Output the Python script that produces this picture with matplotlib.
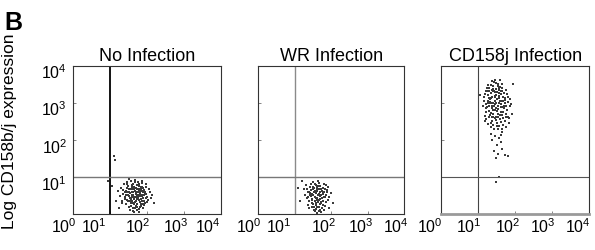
import numpy as np
import matplotlib
matplotlib.use("Agg")
import matplotlib.pyplot as plt
from matplotlib.transforms import ScaledTranslation

plt.rcParams['font.family'] = ['Liberation Sans', 'DejaVu Sans']
plt.rcParams['mathtext.fontset'] = 'custom'
plt.rcParams['mathtext.rm'] = 'Liberation Sans'
plt.rcParams['mathtext.default'] = 'regular'

# panel titles
titles = ["No Infection", "WR Infection", "CD158j Infection"]
y_label = "Log CD158b/j expression"
decades = [0, 1, 2, 3, 4]
tick_labels = ["$10^{%d}$" % d for d in decades]
gate_x = [10, 10, 10]
gate_y = [10, 10, 10]

# event positions, as log10 values
no_inf_lx = [1.45, 1.52, 1.60, 1.66, 1.72, 1.80, 1.88, 1.58, 1.70, 1.63,
             1.75, 1.92, 1.50, 1.41, 1.84, 1.96, 2.02, 1.55, 1.68, 1.77,
             1.62, 1.73, 1.82, 1.48, 1.36, 1.31, 1.57, 1.69, 1.86, 1.99,
             2.08, 2.12, 1.94, 1.79, 1.66, 1.53, 1.44, 1.39, 1.60, 1.71,
             1.83, 1.90, 1.64, 1.76, 1.85, 1.57, 1.67, 1.80, 1.93, 1.49,
             1.54, 1.61, 1.74, 1.87, 1.97, 2.05, 1.28, 1.33, 1.47, 1.78,
             1.70, 1.59, 1.81, 1.65, 1.89, 1.52, 1.42, 1.98, 2.15, 1.22,
             1.63, 1.72, 1.84, 1.56, 1.69, 1.91, 1.46, 1.76, 1.61, 1.86,
             1.15, 1.12, 1.05, 1.18, 2.20, 0.95, 1.25,
             1.51, 1.58, 1.65, 1.73, 1.79, 1.87, 1.95, 2.00, 1.43, 1.36,
             1.62, 1.69, 1.76, 1.83, 1.90, 1.55, 1.48, 1.67, 1.74, 1.81,
             1.59, 1.64, 1.71, 1.78, 1.85, 1.93, 2.03, 1.40, 1.34, 1.53,
             1.60, 1.68, 1.75, 1.82, 1.88, 1.96, 1.46, 1.57, 1.63, 1.70,
             1.77, 1.84, 1.91, 1.99, 1.50, 1.66, 1.73, 1.80, 1.58, 1.87]
no_inf_ly = [0.62, 0.48, 0.71, 0.40, 0.55, 0.66, 0.50, 0.30, 0.22, 0.82,
             0.78, 0.35, 0.75, 0.45, 0.28, 0.60, 0.47, 0.56, 0.63, 0.42,
             0.15, 0.10, 0.18, 0.38, 0.55, 0.70, 0.88, 0.92, 0.84, 0.74,
             0.58, 0.42, 0.24, 0.06, 0.05, 0.20, 0.27, 0.80, 0.47, 0.35,
             0.57, 0.69, 0.58, 0.50, 0.40, 0.66, 0.74, 0.80, 0.52, 0.52,
             0.43, 0.36, 0.28, 0.62, 0.44, 0.68, 0.48, 0.36, 0.86, 0.64,
             0.46, 0.58, 0.33, 0.26, 0.16, 0.68, 0.60, 0.82, 0.52, 0.62,
             0.52, 0.70, 0.72, 0.12, 0.16, 0.44, 0.70, 0.58, 0.78, 0.48,
             1.45, 1.55, 0.75, 0.35, 0.30, 0.90, 0.15,
             0.58, 0.44, 0.67, 0.52, 0.38, 0.73, 0.55, 0.33, 0.50, 0.64,
             0.29, 0.85, 0.45, 0.61, 0.26, 0.34, 0.80, 0.42, 0.20, 0.53,
             0.72, 0.08, 0.60, 0.13, 0.68, 0.64, 0.38, 0.40, 0.30, 0.95,
             0.50, 0.33, 0.66, 0.48, 0.36, 0.30, 0.60, 0.22, 0.68, 0.57,
             0.85, 0.22, 0.58, 0.55, 0.35, 0.47, 0.40, 0.75, 0.40, 0.90]

wr_lx = [1.38, 1.45, 1.52, 1.60, 1.66, 1.73, 1.80, 1.50, 1.62, 1.56,
         1.70, 1.85, 1.42, 1.33, 1.77, 1.88, 1.95, 1.48, 1.60, 1.70,
         1.57, 1.66, 1.74, 1.40, 1.28, 1.24, 1.50, 1.63, 1.79, 1.90,
         1.98, 1.72, 1.60, 1.47, 1.36, 1.31, 1.54, 1.64, 1.76, 1.82,
         1.58, 1.68, 1.45, 1.55, 1.68, 1.80, 1.44, 1.35, 1.92, 1.86,
         1.52, 1.62, 1.74, 1.65, 1.58,
         1.10, 1.15, 2.05, 1.20, 1.95,
         1.43, 1.50, 1.57, 1.64, 1.71, 1.78, 1.85, 1.37, 1.46, 1.53,
         1.61, 1.69, 1.76, 1.83, 1.41, 1.49, 1.56, 1.63, 1.70, 1.77,
         1.34, 1.47, 1.55, 1.62, 1.72, 1.81, 1.88, 1.39, 1.51, 1.59,
         1.67, 1.75, 1.44, 1.53, 1.65, 1.73, 1.84, 1.58, 1.66, 1.48]
wr_ly = [0.60, 0.48, 0.70, 0.38, 0.55, 0.66, 0.45, 0.28, 0.20, 0.80,
         0.76, 0.32, 0.74, 0.42, 0.25, 0.58, 0.46, 0.55, 0.62, 0.40,
         0.13, 0.08, 0.16, 0.35, 0.52, 0.68, 0.86, 0.90, 0.82, 0.72,
         0.56, 0.05, 0.04, 0.18, 0.25, 0.78, 0.45, 0.33, 0.55, 0.67,
         0.56, 0.48, 0.64, 0.36, 0.28, 0.12, 0.82, 0.60, 0.38, 0.78,
         0.60, 0.72, 0.62, 0.18, 0.24,
         0.70, 0.35, 0.30, 0.90, 0.15,
         0.52, 0.66, 0.42, 0.75, 0.30, 0.58, 0.50, 0.45, 0.38, 0.20,
         0.67, 0.60, 0.35, 0.22, 0.56, 0.72, 0.08, 0.50, 0.12, 0.70,
         0.66, 0.30, 0.62, 0.44, 0.52, 0.60, 0.64, 0.15, 0.52, 0.78,
         0.38, 0.44, 0.48, 0.10, 0.66, 0.32, 0.46, 0.30, 0.84, 0.40]

cd_lx = [1.25, 1.32, 1.40, 1.48, 1.55, 1.62, 1.70, 1.36, 1.45, 1.52,
         1.60, 1.68, 1.28, 1.38, 1.50, 1.58, 1.66, 1.75, 1.20, 1.15,
         1.30, 1.42, 1.52, 1.58, 1.35, 1.45, 1.55, 1.65, 1.72, 1.80,
         1.85, 1.78, 1.22, 1.18, 1.33, 1.43, 1.53, 1.63, 1.48, 1.40,
         1.30, 1.25, 1.38, 1.47, 1.56, 1.64, 1.72, 1.82, 1.27, 1.37,
         1.44, 1.50, 1.60, 1.68, 1.76, 1.34, 1.26, 1.21, 1.41, 1.57,
         1.49, 1.62, 1.70, 1.39, 1.31, 1.54, 1.46, 1.58, 1.36, 1.44,
         1.66, 1.74, 1.52, 1.29, 1.40, 1.61, 1.35, 1.48, 1.56, 1.23,
         1.87, 1.90, 1.17, 1.12, 1.45, 1.38,
         1.45, 1.55, 1.60, 1.38, 1.50, 1.65, 1.42, 1.72, 1.52, 1.80,
         1.35, 1.62, 1.48,
         1.48, 1.05, 1.95, 1.55,
         1.19, 1.27, 1.34, 1.41, 1.49, 1.57, 1.64, 1.73, 1.81, 1.24,
         1.31, 1.39, 1.46, 1.54, 1.61, 1.69, 1.77, 1.84, 1.16, 1.29,
         1.36, 1.44, 1.51, 1.59, 1.67, 1.75, 1.22, 1.33, 1.42, 1.50,
         1.58, 1.66, 1.79, 1.28, 1.37, 1.47, 1.55, 1.63, 1.71, 1.88,
         1.20, 1.32, 1.43, 1.53, 1.61, 1.74, 1.26, 1.40, 1.51, 1.65]
cd_ly = [3.30, 3.10, 3.45, 3.20, 3.35, 3.05, 3.25, 2.85, 2.95, 2.70,
         2.88, 2.75, 2.60, 2.50, 2.45, 2.55, 2.40, 2.62, 2.95, 3.15,
         3.40, 3.55, 3.50, 3.60, 3.25, 3.05, 3.12, 3.40, 3.00, 3.15,
         2.90, 2.80, 2.75, 2.50, 2.35, 2.30, 2.28, 2.20, 2.62, 2.70,
         2.78, 3.05, 3.15, 3.38, 2.98, 2.68, 2.50, 2.45, 2.42, 2.92,
         2.80, 3.10, 3.22, 3.15, 3.35, 3.48, 3.20, 2.85, 2.40, 2.36,
         2.52, 2.95, 2.85, 3.00, 2.68, 2.82, 3.28, 3.42, 3.35, 2.58,
         3.05, 2.70, 2.92, 2.90, 2.60, 2.48, 2.45, 3.00, 3.25, 3.40,
         3.10, 2.70, 2.65, 2.90, 3.62, 3.58,
         2.10, 2.05, 1.95, 2.00, 1.85, 1.75, 1.70, 1.60, 1.62, 1.55,
         2.15, 2.12, 1.50,
         0.85, 3.20, 3.50, 1.00,
         3.22, 3.48, 3.12, 3.30, 3.52, 3.18, 3.32, 3.12, 3.02, 2.88,
         3.00, 3.38, 3.14, 3.44, 3.30, 2.92, 3.22, 2.58, 3.05, 3.32,
         2.98, 3.18, 3.28, 3.05, 2.58, 2.92, 2.55, 2.72, 2.90, 2.78,
         2.68, 2.88, 2.60, 3.12, 2.62, 2.85, 3.40, 3.50, 3.08, 2.95,
         3.30, 3.02, 3.30, 2.60, 2.75, 2.35, 2.98, 2.80, 2.38, 2.28]

panels = [(no_inf_lx, no_inf_ly), (wr_lx, wr_ly), (cd_lx, cd_ly)]

# layout / style only
lefts = [72.7, 258.3, 441.3]
widths = [148, 146, 148]
vline_style = [dict(color='black', lw=1.3), dict(color='#8a8a8a', lw=1.0), dict(color='#444444', lw=0.8)]
hline_style = [dict(color='#777777', lw=1.0), dict(color='#777777', lw=1.0), dict(color='#555555', lw=0.8)]
xlab_shift = [[-9, -16, -9, -8, -13], [-9, -16, -8, -7, -8], [-11, -9, -8, -9, -11]]

W, H = 595, 251
fig = plt.figure(figsize=(W / 100, H / 100), dpi=100)

for i, (lx, ly) in enumerate(panels):
    ax = fig.add_axes([lefts[i] / W, 1 - 215 / H, widths[i] / W, 148.5 / H])
    ax.set_xscale('log')
    ax.set_yscale('log')
    ax.scatter(10 ** np.array(lx), 10 ** np.array(ly), s=0.55, marker='s',
               color='#3a3a3a', linewidths=0)
    ax.axvline(gate_x[i], **vline_style[i])
    ax.axhline(gate_y[i], **hline_style[i])
    ax.set_xlim(1, 1e4)
    ax.set_ylim(1, 1e4)
    ax.minorticks_off()
    ax.set_xticks([10.0 ** d for d in decades])
    ax.set_xticklabels(tick_labels, fontsize=11.5)
    ax.set_yticks([10.0 ** d for d in decades])
    ax.tick_params(axis='both', direction='in', length=2, width=0.5, color='#555555', pad=2)
    ax.tick_params(axis='y', pad=4)
    if i == 0:
        ax.set_yticklabels([""] + tick_labels[1:], fontsize=11.5)
        for lab in ax.get_yticklabels():
            lab.set_transform(lab.get_transform() + ScaledTranslation(0, -5 / 100, fig.dpi_scale_trans))
    else:
        ax.set_yticklabels([])
    for lab, dx in zip(ax.get_xticklabels(), xlab_shift[i]):
        lab.set_transform(lab.get_transform() + ScaledTranslation(dx / 100, 0, fig.dpi_scale_trans))
    for sp in ax.spines.values():
        sp.set_color('#333333')
        sp.set_linewidth(0.8)
    if i == 2:
        ax.spines['bottom'].set_color('#9a9a9a')
        ax.spines['bottom'].set_linewidth(2.0)
    ax.set_title(titles[i], fontsize=13, pad=4)

fig.text(10 / W, 0.476, y_label, rotation=90, fontsize=12.5, ha='center', va='center')
fig.text(4 / W, 1 - 30 / H, "B", fontsize=18, fontweight='bold', va='baseline')

fig.savefig("out.png", dpi=100)
